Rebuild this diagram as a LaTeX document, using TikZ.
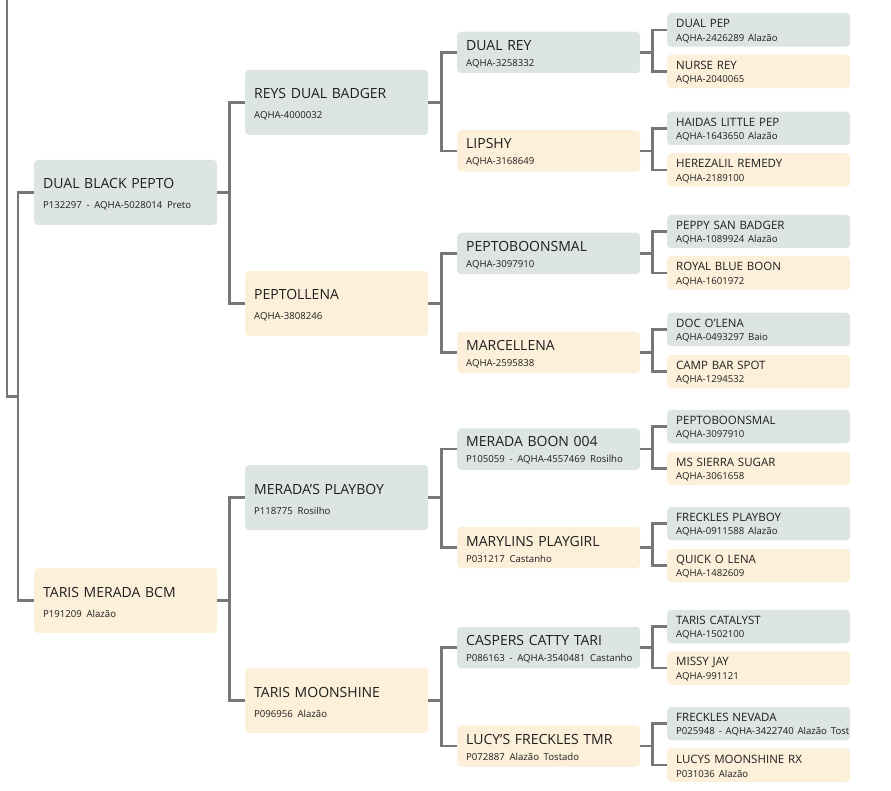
\documentclass[tikz,border=0pt]{standalone}
\usepackage{xcolor}
\usepackage{fontspec}
\setmainfont{Open Sans}
\usepackage{tikz}
\usetikzlibrary{positioning,calc}
\definecolor{sirebg}{HTML}{DCE5E0}
\definecolor{dambg}{HTML}{FDF0DA}
\definecolor{linkgray}{HTML}{777777}
\definecolor{cardtext}{HTML}{1E1E1E}
\newcommand{\subf}{\fontsize{9.6}{12}\selectfont}
\newcommand{\horse}[2]{\rule{0pt}{0.95em}#1\\{\subf\mbox{#2}}}
\tikzset{
  card/.style={rectangle, rounded corners=4pt, anchor=west, text width=165pt,
    inner xsep=9pt, inner ysep=0pt, align=left, text=cardtext},
  bigcard/.style={card, minimum height=65pt, font=\fontsize{14}{20}\selectfont},
  midcard/.style={card, minimum height=41.5pt, font=\fontsize{14}{16}\selectfont},
  smallcard/.style={card, minimum height=33.5pt, font=\fontsize{11.5}{13.5}\selectfont},
  sire/.style={fill=sirebg},
  dam/.style={fill=dambg},
  link/.style={draw=linkgray, line width=2.6pt}
}

\begin{document}
\begin{tikzpicture}[x=1pt,y=-1pt]
\useasboundingbox (0,0) rectangle (891,791);

\node[bigcard,sire] (dbp) at (34,192.5) {\horse{DUAL BLACK PEPTO}{P132297 - AQHA-5028014 Preto}};
\node[bigcard,dam] (tmb) at (34,600.5) {\horse{TARIS MERADA BCM}{P191209 Alazão}};

\node[bigcard,sire] (rdb) at (245,102.5) {\horse{REYS DUAL BADGER}{AQHA-4000032}};
\node[bigcard,dam] (ptl) at (245,303.5) {\horse{PEPTOLLENA}{AQHA-3808246}};
\node[bigcard,sire] (mpb) at (245,497.5) {\horse{MERADA'S PLAYBOY}{P118775 Rosilho}};
\node[bigcard,dam] (tms) at (245,700.5) {\horse{TARIS MOONSHINE}{P096956 Alazão}};

\node[midcard,sire] (drey) at (457,52.5) {\horse{DUAL REY}{AQHA-3258332}};
\node[midcard,dam] (lip) at (457,151) {\horse{LIPSHY}{AQHA-3168649}};
\node[midcard,sire] (pbs) at (457,253.5) {\horse{PEPTOBOONSMAL}{AQHA-3097910}};
\node[midcard,dam] (mar) at (457,352.5) {\horse{MARCELLENA}{AQHA-2595838}};
\node[midcard,sire] (mbn) at (457,449) {\horse{MERADA BOON 004}{P105059 - AQHA-4557469 Rosilho}};
\node[midcard,dam] (mpg) at (457,547.5) {\horse{MARYLINS PLAYGIRL}{P031217 Castanho}};
\node[midcard,sire] (cct) at (457,647.5) {\horse{CASPERS CATTY TARI}{P086163 - AQHA-3540481 Castanho}};
\node[midcard,dam] (lft) at (457,746) {\horse{LUCY'S FRECKLES TMR}{P072887 Alazão Tostado}};

\node[smallcard,sire] (dpep) at (667,30) {\horse{DUAL PEP}{AQHA-2426289 Alazão}};
\node[smallcard,dam] (nrey) at (667,71.5) {\horse{NURSE REY}{AQHA-2040065}};
\node[smallcard,sire] (hlp) at (667,128.5) {\horse{HAIDAS LITTLE PEP}{AQHA-1643650 Alazão}};
\node[smallcard,dam] (hrem) at (667,170) {\horse{HEREZALIL REMEDY}{AQHA-2189100}};
\node[smallcard,sire] (psb) at (667,231.5) {\horse{PEPPY SAN BADGER}{AQHA-1089924 Alazão}};
\node[smallcard,dam] (rbb) at (667,273) {\horse{ROYAL BLUE BOON}{AQHA-1601972}};
\node[smallcard,sire] (dol) at (667,329.5) {\horse{DOC O'LENA}{AQHA-0493297 Baio}};
\node[smallcard,dam] (cbs) at (667,371.5) {\horse{CAMP BAR SPOT}{AQHA-1294532}};
\node[smallcard,sire] (pbs2) at (667,426.5) {\horse{PEPTOBOONSMAL}{AQHA-3097910}};
\node[smallcard,dam] (mss) at (667,468.5) {\horse{MS SIERRA SUGAR}{AQHA-3061658}};
\node[smallcard,sire] (fpb) at (667,523.5) {\horse{FRECKLES PLAYBOY}{AQHA-0911588 Alazão}};
\node[smallcard,dam] (qol) at (667,565.5) {\horse{QUICK O LENA}{AQHA-1482609}};
\node[smallcard,sire] (tcat) at (667,626.5) {\horse{TARIS CATALYST}{AQHA-1502100}};
\node[smallcard,dam] (mjay) at (667,668) {\horse{MISSY JAY}{AQHA-991121}};
\node[smallcard,sire] (fnev) at (667,723.5) {\horse{FRECKLES NEVADA}{P025948 - AQHA-3422740 Alazão Tost}};
\node[smallcard,dam] (lmrx) at (667,765) {\horse{LUCYS MOONSHINE RX}{P031036 Alazão}};

\coordinate (root) at (7,0);
\coordinate (fork) at (18,396.5);
\draw[link] (root) |- (fork);
\draw[link] (fork) |- (dbp.west);
\draw[link] (fork) |- (tmb.west);

\draw[link] (dbp.east) -- ++(12,0) |- (rdb.west);
\draw[link] (dbp.east) -- ++(12,0) |- (ptl.west);
\draw[link] (tmb.east) -- ++(12,0) |- (mpb.west);
\draw[link] (tmb.east) -- ++(12,0) |- (tms.west);

\draw[link] (rdb.east) -- ++(13,0) |- (drey.west);
\draw[link] (rdb.east) -- ++(13,0) |- (lip.west);
\draw[link] (ptl.east) -- ++(13,0) |- (pbs.west);
\draw[link] (ptl.east) -- ++(13,0) |- (mar.west);
\draw[link] (mpb.east) -- ++(13,0) |- (mbn.west);
\draw[link] (mpb.east) -- ++(13,0) |- (mpg.west);
\draw[link] (tms.east) -- ++(13,0) |- (cct.west);
\draw[link] (tms.east) -- ++(13,0) |- (lft.west);

\draw[link] (drey.east) -- ++(12,0) |- (dpep.west);
\draw[link] (drey.east) -- ++(12,0) |- (nrey.west);
\draw[link] (lip.east) -- ++(12,0) |- (hlp.west);
\draw[link] (lip.east) -- ++(12,0) |- (hrem.west);
\draw[link] (pbs.east) -- ++(12,0) |- (psb.west);
\draw[link] (pbs.east) -- ++(12,0) |- (rbb.west);
\draw[link] (mar.east) -- ++(12,0) |- (dol.west);
\draw[link] (mar.east) -- ++(12,0) |- (cbs.west);
\draw[link] (mbn.east) -- ++(12,0) |- (pbs2.west);
\draw[link] (mbn.east) -- ++(12,0) |- (mss.west);
\draw[link] (mpg.east) -- ++(12,0) |- (fpb.west);
\draw[link] (mpg.east) -- ++(12,0) |- (qol.west);
\draw[link] (cct.east) -- ++(12,0) |- (tcat.west);
\draw[link] (cct.east) -- ++(12,0) |- (mjay.west);
\draw[link] (lft.east) -- ++(12,0) |- (fnev.west);
\draw[link] (lft.east) -- ++(12,0) |- (lmrx.west);
\end{tikzpicture}
\end{document}
